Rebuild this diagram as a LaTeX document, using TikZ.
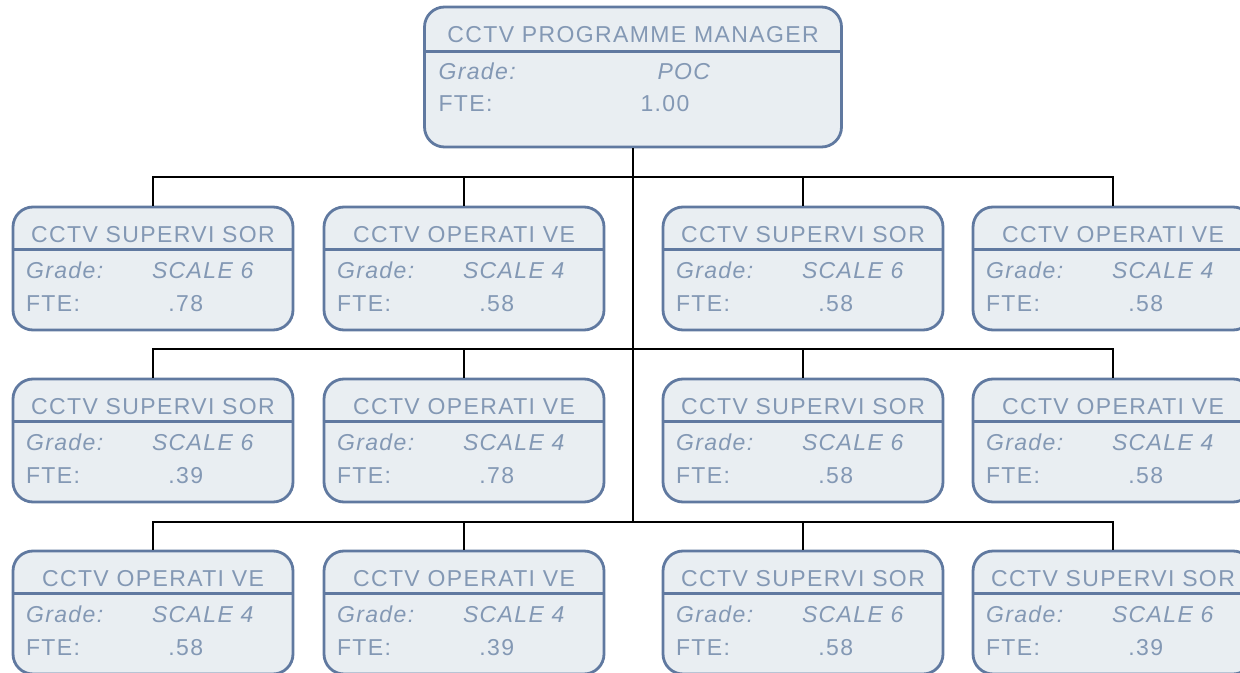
\documentclass[tikz,border=0pt]{standalone}
\usepackage{fontspec}
\newfontfamily\orgfont{Liberation Sans}[LetterSpace=6]
\usetikzlibrary{positioning}
\definecolor{boxfill}{HTML}{E9EEF2}
\definecolor{boxline}{HTML}{6079A0}
\definecolor{boxtext}{HTML}{8398B4}
\tikzset{
unit/.style={draw=boxline,fill=boxfill,line width=1.4pt,rounded corners=10pt,minimum width=140pt,minimum height=61.5pt,inner sep=0pt},
head/.style={unit,minimum width=208.5pt,minimum height=70pt},
sep/.style={draw=boxline,line width=1.4pt},
txt/.style={text=boxtext,font=\orgfont\fontsize{11.5pt}{13pt}\selectfont,inner sep=0pt,anchor=base west},
link/.style={black,line width=1pt}
}
\begin{document}
\begin{tikzpicture}[x=0.5pt,y=-0.5pt]
\useasboundingbox (0,0) rectangle (1240,673);
\clip (0,0) rectangle (1240,673);

\node[head] (pm) at (633,77) {};
\draw[sep] ([yshift=-23pt]pm.north west) -- ([yshift=-23pt]pm.north east);
\node[txt,anchor=base] (pmt) at ([yshift=-18.5pt]pm.north) {CCTV PROGRAMME MANAGER};
\node[txt] (pmg) at ([shift={(7.5pt,-37pt)}]pm.north west) {\itshape Grade:};
\node[txt] (pmgv) at ([shift={(117pt,-37pt)}]pm.north west) {\itshape POC};
\node[txt] (pmf) at ([shift={(7.5pt,-53pt)}]pm.north west) {FTE:};
\node[txt] (pmfv) at ([shift={(108.5pt,-53pt)}]pm.north west) {1.00};

\coordinate (h1) at (pm.south |- 0,177);
\coordinate (h2) at (pm.south |- 0,349);
\coordinate (h3) at (pm.south |- 0,522);

\node[unit] (s11) at (153,268.5) {};
\node[unit] (s12) at (464,268.5) {};
\node[unit] (s13) at (803,268.5) {};
\node[unit] (s14) at (1113,268.5) {};
\node[unit] (s21) at (153,440.5) {};
\node[unit] (s22) at (464,440.5) {};
\node[unit] (s23) at (803,440.5) {};
\node[unit] (s24) at (1113,440.5) {};
\node[unit] (s31) at (153,612.5) {};
\node[unit] (s32) at (464,612.5) {};
\node[unit] (s33) at (803,612.5) {};
\node[unit] (s34) at (1113,612.5) {};

\draw[sep] ([yshift=-22pt]s11.north west) -- ([yshift=-22pt]s11.north east);
\node[txt,anchor=base] at ([yshift=-18.5pt]s11.north) {CCTV SUPERVI SOR};
\node[txt] at ([shift={(7pt,-36.5pt)}]s11.north west) {\itshape Grade:};
\node[txt] at ([shift={(70pt,-36.5pt)}]s11.north west) {\itshape SCALE 6};
\node[txt] at ([shift={(7pt,-53pt)}]s11.north west) {FTE:};
\node[txt,anchor=base east] at ([shift={(96pt,-53pt)}]s11.north west) {.78};

\draw[sep] ([yshift=-22pt]s12.north west) -- ([yshift=-22pt]s12.north east);
\node[txt,anchor=base] at ([yshift=-18.5pt]s12.north) {CCTV OPERATI VE};
\node[txt] at ([shift={(7pt,-36.5pt)}]s12.north west) {\itshape Grade:};
\node[txt] at ([shift={(70pt,-36.5pt)}]s12.north west) {\itshape SCALE 4};
\node[txt] at ([shift={(7pt,-53pt)}]s12.north west) {FTE:};
\node[txt,anchor=base east] at ([shift={(96pt,-53pt)}]s12.north west) {.58};

\draw[sep] ([yshift=-22pt]s13.north west) -- ([yshift=-22pt]s13.north east);
\node[txt,anchor=base] at ([yshift=-18.5pt]s13.north) {CCTV SUPERVI SOR};
\node[txt] at ([shift={(7pt,-36.5pt)}]s13.north west) {\itshape Grade:};
\node[txt] at ([shift={(70pt,-36.5pt)}]s13.north west) {\itshape SCALE 6};
\node[txt] at ([shift={(7pt,-53pt)}]s13.north west) {FTE:};
\node[txt,anchor=base east] at ([shift={(96pt,-53pt)}]s13.north west) {.58};

\draw[sep] ([yshift=-22pt]s14.north west) -- ([yshift=-22pt]s14.north east);
\node[txt,anchor=base] at ([yshift=-18.5pt]s14.north) {CCTV OPERATI VE};
\node[txt] at ([shift={(7pt,-36.5pt)}]s14.north west) {\itshape Grade:};
\node[txt] at ([shift={(70pt,-36.5pt)}]s14.north west) {\itshape SCALE 4};
\node[txt] at ([shift={(7pt,-53pt)}]s14.north west) {FTE:};
\node[txt,anchor=base east] at ([shift={(96pt,-53pt)}]s14.north west) {.58};

\draw[sep] ([yshift=-22pt]s21.north west) -- ([yshift=-22pt]s21.north east);
\node[txt,anchor=base] at ([yshift=-18.5pt]s21.north) {CCTV SUPERVI SOR};
\node[txt] at ([shift={(7pt,-36.5pt)}]s21.north west) {\itshape Grade:};
\node[txt] at ([shift={(70pt,-36.5pt)}]s21.north west) {\itshape SCALE 6};
\node[txt] at ([shift={(7pt,-53pt)}]s21.north west) {FTE:};
\node[txt,anchor=base east] at ([shift={(96pt,-53pt)}]s21.north west) {.39};

\draw[sep] ([yshift=-22pt]s22.north west) -- ([yshift=-22pt]s22.north east);
\node[txt,anchor=base] at ([yshift=-18.5pt]s22.north) {CCTV OPERATI VE};
\node[txt] at ([shift={(7pt,-36.5pt)}]s22.north west) {\itshape Grade:};
\node[txt] at ([shift={(70pt,-36.5pt)}]s22.north west) {\itshape SCALE 4};
\node[txt] at ([shift={(7pt,-53pt)}]s22.north west) {FTE:};
\node[txt,anchor=base east] at ([shift={(96pt,-53pt)}]s22.north west) {.78};

\draw[sep] ([yshift=-22pt]s23.north west) -- ([yshift=-22pt]s23.north east);
\node[txt,anchor=base] at ([yshift=-18.5pt]s23.north) {CCTV SUPERVI SOR};
\node[txt] at ([shift={(7pt,-36.5pt)}]s23.north west) {\itshape Grade:};
\node[txt] at ([shift={(70pt,-36.5pt)}]s23.north west) {\itshape SCALE 6};
\node[txt] at ([shift={(7pt,-53pt)}]s23.north west) {FTE:};
\node[txt,anchor=base east] at ([shift={(96pt,-53pt)}]s23.north west) {.58};

\draw[sep] ([yshift=-22pt]s24.north west) -- ([yshift=-22pt]s24.north east);
\node[txt,anchor=base] at ([yshift=-18.5pt]s24.north) {CCTV OPERATI VE};
\node[txt] at ([shift={(7pt,-36.5pt)}]s24.north west) {\itshape Grade:};
\node[txt] at ([shift={(70pt,-36.5pt)}]s24.north west) {\itshape SCALE 4};
\node[txt] at ([shift={(7pt,-53pt)}]s24.north west) {FTE:};
\node[txt,anchor=base east] at ([shift={(96pt,-53pt)}]s24.north west) {.58};

\draw[sep] ([yshift=-22pt]s31.north west) -- ([yshift=-22pt]s31.north east);
\node[txt,anchor=base] at ([yshift=-18.5pt]s31.north) {CCTV OPERATI VE};
\node[txt] at ([shift={(7pt,-36.5pt)}]s31.north west) {\itshape Grade:};
\node[txt] at ([shift={(70pt,-36.5pt)}]s31.north west) {\itshape SCALE 4};
\node[txt] at ([shift={(7pt,-53pt)}]s31.north west) {FTE:};
\node[txt,anchor=base east] at ([shift={(96pt,-53pt)}]s31.north west) {.58};

\draw[sep] ([yshift=-22pt]s32.north west) -- ([yshift=-22pt]s32.north east);
\node[txt,anchor=base] at ([yshift=-18.5pt]s32.north) {CCTV OPERATI VE};
\node[txt] at ([shift={(7pt,-36.5pt)}]s32.north west) {\itshape Grade:};
\node[txt] at ([shift={(70pt,-36.5pt)}]s32.north west) {\itshape SCALE 4};
\node[txt] at ([shift={(7pt,-53pt)}]s32.north west) {FTE:};
\node[txt,anchor=base east] at ([shift={(96pt,-53pt)}]s32.north west) {.39};

\draw[sep] ([yshift=-22pt]s33.north west) -- ([yshift=-22pt]s33.north east);
\node[txt,anchor=base] at ([yshift=-18.5pt]s33.north) {CCTV SUPERVI SOR};
\node[txt] at ([shift={(7pt,-36.5pt)}]s33.north west) {\itshape Grade:};
\node[txt] at ([shift={(70pt,-36.5pt)}]s33.north west) {\itshape SCALE 6};
\node[txt] at ([shift={(7pt,-53pt)}]s33.north west) {FTE:};
\node[txt,anchor=base east] at ([shift={(96pt,-53pt)}]s33.north west) {.58};

\draw[sep] ([yshift=-22pt]s34.north west) -- ([yshift=-22pt]s34.north east);
\node[txt,anchor=base] at ([yshift=-18.5pt]s34.north) {CCTV SUPERVI SOR};
\node[txt] at ([shift={(7pt,-36.5pt)}]s34.north west) {\itshape Grade:};
\node[txt] at ([shift={(70pt,-36.5pt)}]s34.north west) {\itshape SCALE 6};
\node[txt] at ([shift={(7pt,-53pt)}]s34.north west) {FTE:};
\node[txt,anchor=base east] at ([shift={(96pt,-53pt)}]s34.north west) {.39};

\draw[link] (pm.south) -- (h3);
\draw[link] (s11.north) |- (s14.north |- h1) -- (s14.north);
\draw[link] (s12.north) -- (s12.north |- h1);
\draw[link] (s13.north) -- (s13.north |- h1);
\draw[link] (s21.north) |- (s24.north |- h2) -- (s24.north);
\draw[link] (s22.north) -- (s22.north |- h2);
\draw[link] (s23.north) -- (s23.north |- h2);
\draw[link] (s31.north) |- (s34.north |- h3) -- (s34.north);
\draw[link] (s32.north) -- (s32.north |- h3);
\draw[link] (s33.north) -- (s33.north |- h3);

\end{tikzpicture}
\end{document}
